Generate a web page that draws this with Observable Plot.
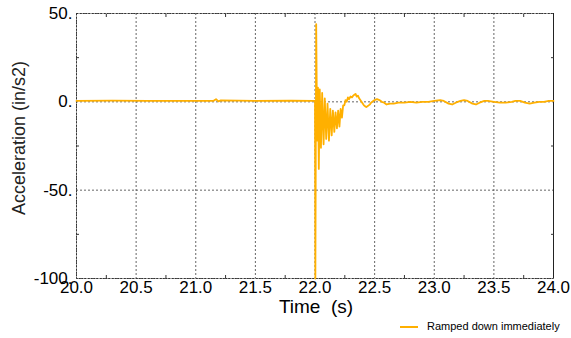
<!DOCTYPE html>
<html><head><meta charset="utf-8">
<script src="https://cdn.jsdelivr.net/npm/d3@7"></script>
<script src="https://cdn.jsdelivr.net/npm/@observablehq/plot@0.6"></script>
<style>
body{margin:0;background:#fff;font-family:"Liberation Sans",Arial,sans-serif}
#legend{position:relative;height:20px;width:571px;font-size:11px;color:#000}
#legend .sw{position:absolute;left:400px;top:8px;width:18px;height:2px;background:#ffb000}
#legend .lb{position:absolute;left:427px;top:2px}
</style></head><body>
<div id="chart"></div>
<div id="legend"><span class="sw"></span><span class="lb">Ramped down immediately</span></div>
<script>
const seriesName = "Ramped down immediately";
const time = [20.0,20.3,20.6,21.0,21.15,21.17,21.19,21.21,21.5,21.8,21.99,
 22.000,22.003,22.010,22.018,22.025,22.032,22.040,22.050,22.060,22.072,22.082,22.094,22.105,22.117,22.128,22.140,22.150,22.162,22.172,22.184,22.194,22.205,22.215,22.226,22.236,22.246,22.256,22.266,22.276,22.286,22.298,
 22.31,22.32,22.33,22.34,22.35,22.36,22.37,22.38,22.39,22.40,22.41,22.42,22.43,22.44,22.45,22.46,22.47,22.48,22.50,22.52,22.54,22.56,22.58,22.60,22.63,22.66,22.70,22.75,22.80,22.85,22.90,22.95,
 23.00,23.05,23.08,23.12,23.15,23.18,23.22,23.25,23.28,23.32,23.35,23.38,23.42,23.45,23.50,23.55,23.60,23.65,23.68,23.72,23.76,23.80,23.84,23.88,23.92,23.96,24.00];
const accel = [0.5,0.7,0.5,0.5,0.6,1.5,0.3,0.8,0.5,0.6,0.5,
 0.5,-100,44,-22,8,-38,7,-26,5,-24,2,-21,-1,-22,-4,-19,-5,-17,-6,-15,-5,-14,-4,-9,-2,-2,1,0,2.5,1.5,3,
 2.5,3.5,4,4.5,3,3.5,2,1,0,-1,-2,-2.5,-3,-2.5,-2,-1.5,-0.5,0,1,1.5,1,0,-0.5,-1.5,-1,-1,-0.5,-0.5,0,-0.5,0,0,
 0.5,1,0.5,-1,-1.5,-0.5,0.5,1,0.5,-1,-1.5,-0.5,0.5,0.5,0,-0.5,-0.5,0,0.5,0.5,-0.5,-1,-0.5,0,0,0.5,0.5];
const xTicks = [20.0,20.5,21.0,21.5,22.0,22.5,23.0,23.5,24.0];
const yTicks = [-100,-50,0,50];
const xMinor = [20.25,20.75,21.25,21.75,22.25,22.75,23.25,23.75];
const yMinor = [-75,-25,25];
const data = time.map((t,i)=>({t, a: accel[i]}));
const lineColor = "#ffb000";
const noText = () => "";
const plot = Plot.plot({
  width: 571, height: 318,
  marginLeft: 76, marginRight: 18, marginTop: 13, marginBottom: 40,
  style: {fontFamily: "Liberation Sans, Arial, sans-serif", background: "#fff"},
  x: {domain: [20, 24]},
  y: {domain: [-100, 50]},
  marks: [
    Plot.gridX(xTicks, {stroke: "#555", strokeOpacity: 0.9, strokeDasharray: "2,2"}),
    Plot.gridY(yTicks, {stroke: "#555", strokeOpacity: 0.9, strokeDasharray: "2,2"}),
    Plot.frame({stroke: "#333", strokeDasharray: "2,1"}),
    Plot.ruleX([24], {stroke: "#222"}),
    Plot.axisX({ticks: xTicks, tickFormat: d3.format(".1f"), tickSize: 0, tickPadding: 2, fontSize: 17, label: null, color: "#000"}),
    Plot.axisX({anchor: "bottom", ticks: xMinor, tickSize: -3, tickFormat: noText, label: null, stroke: "#333"}),
    Plot.axisX({anchor: "top", ticks: xMinor, tickSize: -3, tickFormat: noText, label: null, stroke: "#333"}),
    Plot.axisY({ticks: yTicks, tickFormat: d => d + ".", tickSize: 0, tickPadding: 4, fontSize: 17, label: null, color: "#000"}),
    Plot.axisY({anchor: "left", ticks: yMinor, tickSize: -3, tickFormat: noText, label: null, stroke: "#333"}),
    Plot.axisY({anchor: "right", ticks: yMinor, tickSize: -3, tickFormat: noText, label: null, stroke: "#333"}),
    Plot.line(data, {x: "t", y: "a", stroke: lineColor, strokeWidth: 1.8}),
    Plot.text(["Time  (s)"], {frameAnchor: "bottom", textAnchor: "middle", lineAnchor: "middle", dy: 28, dx: 1, fontSize: 19, fill: "#000"}),
    Plot.text(["Acceleration (in/s2)"], {frameAnchor: "left", textAnchor: "middle", lineAnchor: "middle", rotate: -90, dx: -57, dy: -8, fontSize: 18, fill: "#222"})
  ]
});
document.getElementById("chart").appendChild(plot);
</script>
</body></html>
